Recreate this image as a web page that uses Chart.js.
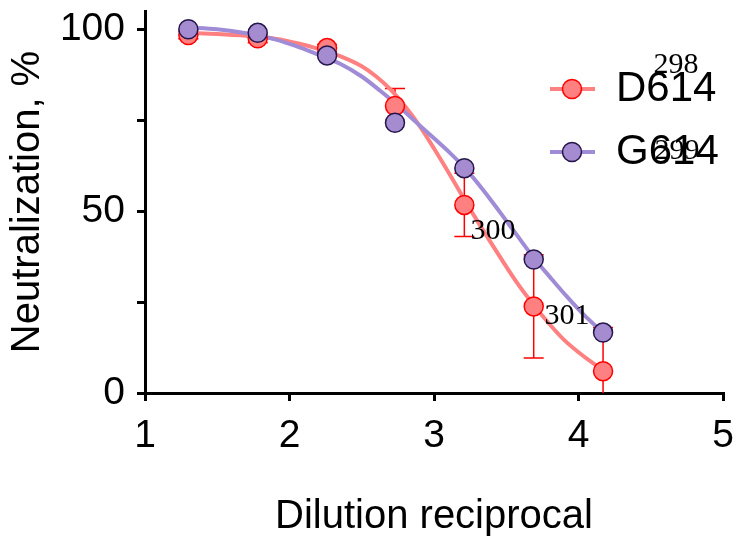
<!DOCTYPE html>
<html>
<head>
<meta charset="utf-8">
<script src="https://cdn.jsdelivr.net/npm/chart.js@4.4.0/dist/chart.umd.min.js"></script>
<style>
  html, body { margin: 0; padding: 0; background: #fff; }
</style>
</head>
<body>
<canvas id="chart" width="735" height="542"></canvas>
<script>
// log10 of the dilution reciprocal (3-fold series)
const dilutionLog = [1.30, 1.78, 2.26, 2.73, 3.21, 3.69, 4.17];
const d614Mean = [98.4, 97.5, 94.8, 78.9, 51.7, 23.8, 6.0];
const d614Sd = [1.0, 1.2, 1.0, 4.8, 8.7, 14.2, 12.0];
const g614Mean = [100.0, 99.0, 92.8, 74.3, 61.8, 36.7, 16.6];

// fitted curves
const d614FitX = [1.30, 1.50, 1.70, 1.90, 2.07, 2.20, 2.35, 2.50, 2.60, 2.70, 2.80, 2.90, 3.00, 3.11, 3.21, 3.32, 3.46, 3.58, 3.69, 3.80, 3.90, 4.00, 4.10, 4.17];
const d614FitY = [99.0, 98.7, 98.2, 97.4, 96.0, 94.6, 92.6, 89.8, 87.0, 83.4, 78.8, 73.4, 67.2, 60.0, 53.2, 46.0, 37.2, 30.0, 24.2, 18.9, 14.6, 11.2, 8.2, 6.3];
const g614FitX = [1.30, 1.50, 1.70, 1.90, 2.07, 2.20, 2.35, 2.50, 2.63, 2.75, 2.86, 3.00, 3.11, 3.21, 3.34, 3.46, 3.57, 3.69, 3.80, 3.92, 4.05, 4.17];
const g614FitY = [100.5, 100.0, 98.9, 97.2, 95.0, 93.0, 90.5, 87.0, 83.0, 79.0, 75.0, 70.0, 66.0, 62.0, 55.8, 49.5, 43.6, 37.2, 32.0, 26.5, 21.0, 16.6];

const seriesNames = ['D614', 'G614'];
const xTicks = [1, 2, 3, 4, 5];
const yTicks = [0, 25, 50, 75, 100];
const yLabelled = [0, 50, 100];
const strayMarks = ['298', '299', '300', '301'];

const RED_LINE = '#ff8080';
const RED_FILL = '#ff8080';
const RED_EDGE = '#ff0000';
const PURPLE_LINE = '#a08cd6';
const PURPLE_FILL = '#a58bd0';
const PURPLE_EDGE = '#24164a';
const MARKER_R = 9.5;

Chart.defaults.font.family = "Arial, 'Liberation Sans', sans-serif";
Chart.defaults.color = '#000';

const toPoints = (xs, ys) => xs.map((x, i) => ({ x: x, y: ys[i] }));

const errorBars = {
  id: 'errorBars',
  beforeDatasetsDraw(chart) {
    const { ctx, chartArea: a, scales: { x, y } } = chart;
    ctx.save();
    ctx.beginPath();
    ctx.rect(a.left, a.top, a.right - a.left, a.bottom - a.top);
    ctx.clip();
    ctx.strokeStyle = RED_EDGE;
    ctx.lineWidth = 1.5;
    dilutionLog.forEach((d, i) => {
      const px = x.getPixelForValue(d);
      const top = y.getPixelForValue(d614Mean[i] + d614Sd[i]);
      const bot = y.getPixelForValue(d614Mean[i] - d614Sd[i]);
      ctx.beginPath();
      ctx.moveTo(px, top);
      ctx.lineTo(px, bot);
      ctx.moveTo(px - 10, top);
      ctx.lineTo(px + 10, top);
      ctx.moveTo(px - 10, bot);
      ctx.lineTo(px + 10, bot);
      ctx.stroke();
    });
    ctx.restore();
  }
};

const sideLegend = {
  id: 'sideLegend',
  afterDatasetsDraw(chart) {
    const { ctx } = chart;
    const rows = [
      { name: seriesNames[0], y: 89, line: RED_LINE, fill: RED_FILL, edge: RED_EDGE },
      { name: seriesNames[1], y: 152, line: PURPLE_LINE, fill: PURPLE_FILL, edge: PURPLE_EDGE }
    ];
    ctx.save();
    rows.forEach(r => {
      ctx.strokeStyle = r.line;
      ctx.lineWidth = 4;
      ctx.beginPath();
      ctx.moveTo(550, r.y);
      ctx.lineTo(595, r.y);
      ctx.stroke();
      ctx.beginPath();
      ctx.arc(572, r.y, MARKER_R, 0, Math.PI * 2);
      ctx.fillStyle = r.fill;
      ctx.fill();
      ctx.lineWidth = 1.5;
      ctx.strokeStyle = r.edge;
      ctx.stroke();
      ctx.fillStyle = '#000';
      ctx.font = "42px Arial, 'Liberation Sans', sans-serif";
      ctx.textAlign = 'left';
      ctx.textBaseline = 'middle';
      ctx.fillText(r.name, 616, r.y);
    });
    ctx.restore();
  }
};

// line numbers from the source page that ended up on the figure
const pageNumbers = {
  id: 'pageNumbers',
  afterDraw(chart) {
    const { ctx } = chart;
    const spots = [[676, 65], [677, 151], [493, 231], [567, 316]];
    ctx.save();
    ctx.fillStyle = '#000';
    ctx.font = "30px 'Liberation Serif', 'Times New Roman', serif";
    ctx.textAlign = 'center';
    ctx.textBaseline = 'middle';
    strayMarks.forEach((t, i) => ctx.fillText(t, spots[i][0], spots[i][1]));
    ctx.restore();
  }
};

new Chart(document.getElementById('chart'), {
  data: {
    datasets: [
      {
        type: 'scatter',
        label: seriesNames[1],
        data: toPoints(dilutionLog, g614Mean),
        backgroundColor: PURPLE_FILL,
        borderColor: PURPLE_EDGE,
        borderWidth: 1.5,
        pointRadius: MARKER_R,
        order: 1
      },
      {
        type: 'scatter',
        label: seriesNames[0],
        data: toPoints(dilutionLog, d614Mean),
        backgroundColor: RED_FILL,
        borderColor: RED_EDGE,
        borderWidth: 1.5,
        pointRadius: MARKER_R,
        order: 2
      },
      {
        type: 'line',
        label: seriesNames[1] + ' fit',
        data: toPoints(g614FitX, g614FitY),
        borderColor: PURPLE_LINE,
        borderWidth: 4,
        pointRadius: 0,
        cubicInterpolationMode: 'monotone',
        order: 3
      },
      {
        type: 'line',
        label: seriesNames[0] + ' fit',
        data: toPoints(d614FitX, d614FitY),
        borderColor: RED_LINE,
        borderWidth: 4,
        pointRadius: 0,
        cubicInterpolationMode: 'monotone',
        order: 4
      }
    ]
  },
  options: {
    responsive: false,
    animation: false,
    layout: { padding: { top: 5, right: 12, left: 0, bottom: 0 } },
    plugins: { legend: { display: false }, tooltip: { enabled: false } },
    scales: {
      x: {
        type: 'linear',
        min: 1,
        max: 5,
        afterBuildTicks: s => { s.ticks = xTicks.map(v => ({ value: v })); },
        ticks: { font: { size: 39 }, color: '#000', padding: 12, autoSkip: false, maxRotation: 0 },
        grid: { drawOnChartArea: false, color: '#000', lineWidth: 3, tickLength: 8 },
        border: { color: '#000', width: 3 },
        title: { display: true, text: 'Dilution reciprocal', font: { size: 40 }, color: '#000', padding: { bottom: 1 } },
        afterFit: s => { s.height = 149; s.paddingLeft = 0; s.paddingRight = 0; }
      },
      y: {
        type: 'linear',
        min: 0,
        max: 105,
        afterBuildTicks: s => { s.ticks = yTicks.map(v => ({ value: v })); },
        ticks: {
          font: { size: 39 },
          color: '#000',
          padding: 12,
          autoSkip: false,
          callback: v => (yLabelled.includes(v) ? v : '')
        },
        grid: { drawOnChartArea: false, color: '#000', lineWidth: 3, tickLength: 8 },
        border: { color: '#000', width: 3 },
        title: { display: true, text: 'Neutralization, %', font: { size: 40 }, color: '#000', padding: { top: 4 } },
        afterFit: s => { s.width = 145; s.paddingTop = 0; s.paddingBottom = 0; }
      }
    }
  },
  plugins: [errorBars, sideLegend, pageNumbers]
});
</script>
</body>
</html>
